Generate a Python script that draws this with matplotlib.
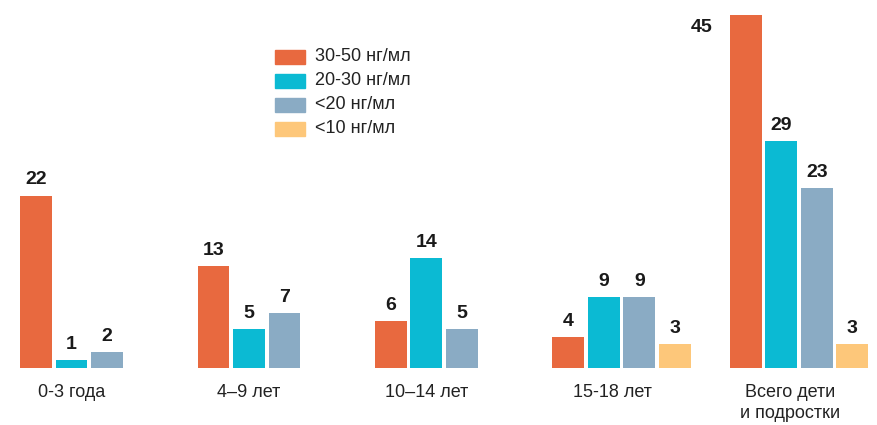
import matplotlib
matplotlib.use('Agg')
import matplotlib.pyplot as plt
from matplotlib.patches import Rectangle
from matplotlib import font_manager

names = {f.name for f in font_manager.fontManager.ttflist}
cond = 'Liberation Sans Narrow' if 'Liberation Sans Narrow' in names else 'Liberation Sans'
plt.rcParams['font.family'] = [cond, 'DejaVu Sans']

groups = ['0-3 года', '4–9 лет', '10–14 лет', '15-18 лет', 'Всего дети\nи подростки']
series = ['30-50 нг/мл', '20-30 нг/мл', '<20 нг/мл', '<10 нг/мл']
v_30_50 = [22, 13, 6, 4, 45]
v_20_30 = [1, 5, 14, 9, 29]
v_lt20 = [2, 7, 5, 9, 23]
v_lt10 = [0, 0, 0, 3, 3]
colors = ['#E8693F', '#0BBAD3', '#8AABC4', '#FDC77A']

fig = plt.figure(figsize=(8.78, 4.25), dpi=100)
ax = fig.add_axes([0, 0, 1, 1])
ax.set_xlim(-1.014, 23.72)
ax.set_ylim(-7.27, 46.94)
ax.axis('off')

values = [v_30_50, v_20_30, v_lt20, v_lt10]
for j, vals in enumerate(values):
    for i, v in enumerate(vals):
        if not v:
            continue
        x = 5 * i + j
        ax.bar(x, v, width=0.9, color=colors[j])
        # the tallest bar has no room above it, so its number goes to the left
        if v > 42:
            ax.text(x - 0.93, v - 1.6, str(v), ha='right', va='center',
                    fontsize=14, fontweight='bold', color='#1a1a1a')
        else:
            ax.text(x, v + 0.9, str(v), ha='center', va='bottom',
                    fontsize=14, fontweight='bold', color='#1a1a1a')

for i, g in enumerate(groups):
    n = sum(1 for vals in values if vals[i])
    xc = 5 * i + (1 if n == 3 else 1.25)
    ax.text(xc, -2.1, g, ha='center', va='top', fontsize=13,
            color='#222222', linespacing=1.25)

# legend
for k, s in enumerate(series):
    y0 = 0.866 - k * 0.0565
    fig.patches.append(Rectangle((275 / 878, y0 - 0.016), 30 / 878, 0.033,
                                 transform=fig.transFigure, color=colors[k]))
    fig.text(315 / 878, y0, s, ha='left', va='center', fontsize=13, color='#222222')

fig.savefig('out.png', dpi=100)
